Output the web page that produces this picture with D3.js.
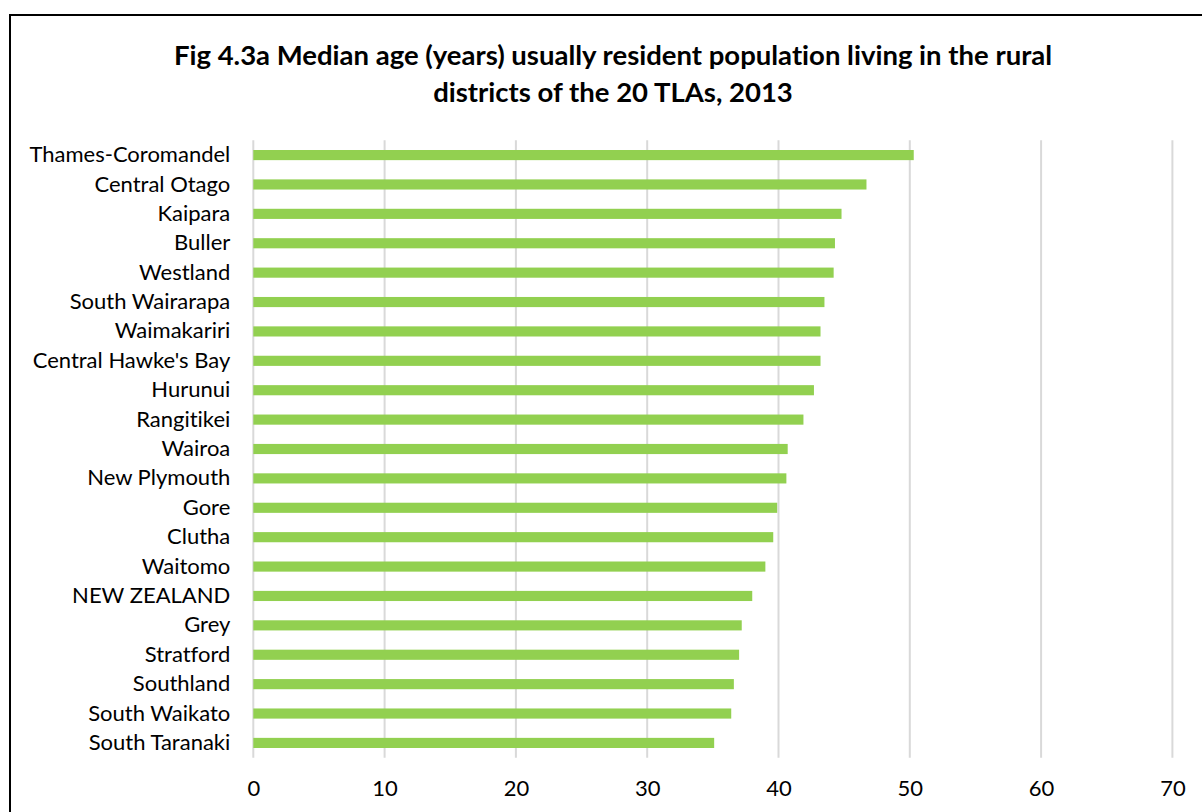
<!DOCTYPE html>
<html>
<head>
<meta charset="utf-8">
<script src="https://cdn.jsdelivr.net/npm/d3@7"></script>
<style>
  html, body { margin: 0; padding: 0; background: #fff; }
  svg { display: block; }
  text { font-family: Lato, "Open Sans", sans-serif; fill: #000; font-variant-ligatures: none; }
</style>
</head>
<body>
<svg id="chart" width="1202" height="812"></svg>
<script>
// Rural districts of the 20 TLAs, ordered from oldest to youngest
const districts = [
  "Thames-Coromandel", "Central Otago", "Kaipara", "Buller", "Westland",
  "South Wairarapa", "Waimakariri", "Central Hawke's Bay", "Hurunui", "Rangitikei",
  "Wairoa", "New Plymouth", "Gore", "Clutha", "Waitomo",
  "NEW ZEALAND", "Grey", "Stratford", "Southland", "South Waikato", "South Taranaki"
];
// Median age in years
const medianAge = [
  50.3, 46.7, 44.8, 44.3, 44.2,
  43.5, 43.2, 43.2, 42.7, 41.9,
  40.7, 40.6, 39.9, 39.6, 39.0,
  38.0, 37.2, 37.0, 36.6, 36.4, 35.1
];
const xTicks = [0, 10, 20, 30, 40, 50, 60, 70];
const titleLines = [
  "Fig 4.3a Median age (years) usually resident population living in the rural",
  "districts of the 20 TLAs, 2013"
];

const svg = d3.select("#chart");
const W = 1202, H = 812;

// outer frame
svg.append("rect")
  .attr("x", 10).attr("y", 15)
  .attr("width", W + 10).attr("height", H + 10)
  .attr("fill", "none").attr("stroke", "#000").attr("stroke-width", 2);

// title
const title = svg.append("text")
  .attr("text-anchor", "middle")
  .attr("font-weight", "bold")
  .attr("font-size", 27.5);
title.selectAll("tspan").data(titleLines).join("tspan")
  .attr("x", 613)
  .attr("y", (d, i) => 65 + i * 37)
  .text(d => d);

const margin = { left: 253.3, right: W - 1172.4, top: 140.3, bottom: H - 757.7 };

const x = d3.scaleLinear().domain([0, 70]).range([margin.left, W - margin.right]);
const y = d3.scaleBand().domain(districts)
  .range([margin.top, H - margin.bottom])
  .paddingInner(0.655).paddingOuter(0.33);

// vertical gridlines
svg.append("g")
  .selectAll("line").data(xTicks).join("line")
  .attr("x1", d => x(d)).attr("x2", d => x(d))
  .attr("y1", margin.top).attr("y2", H - margin.bottom)
  .attr("stroke", "#d9d9d9").attr("stroke-width", 2);

// bars
svg.append("g")
  .selectAll("rect").data(districts).join("rect")
  .attr("x", x(0))
  .attr("y", d => y(d))
  .attr("width", (d, i) => x(medianAge[i]) - x(0))
  .attr("height", y.bandwidth())
  .attr("fill", "#92d050");

// category axis
const yAxis = svg.append("g")
  .attr("transform", `translate(${margin.left},0)`)
  .call(d3.axisLeft(y).tickSize(0).tickPadding(23));
yAxis.select(".domain").remove();
yAxis.selectAll("text")
  .attr("font-size", 22)
  .attr("fill", "#000")
  .style("font-family", "Lato, 'Open Sans', sans-serif");

// value axis
const xAxis = svg.append("g")
  .attr("transform", `translate(0,${H - margin.bottom})`)
  .call(d3.axisBottom(x).tickValues(xTicks).tickSize(0).tickPadding(23));
xAxis.select(".domain").remove();
xAxis.selectAll("text")
  .attr("font-size", 22)
  .attr("fill", "#000")
  .style("font-family", "Lato, 'Open Sans', sans-serif");
</script>
</body>
</html>
